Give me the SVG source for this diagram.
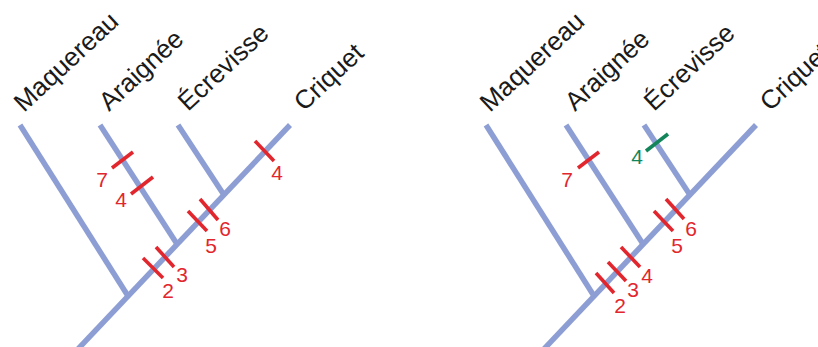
<svg xmlns="http://www.w3.org/2000/svg" width="818" height="347" viewBox="0 0 818 347">
  <style>
    .branch { stroke: #8d9ed4; stroke-width: 5.5; fill: none; stroke-linecap: butt; }
    .tick { stroke: #e2262d; stroke-width: 3.6; stroke-linecap: butt; }
    .tick-alt { stroke: #12865a; stroke-width: 3.6; stroke-linecap: butt; }
    .taxon { font-family: "Liberation Sans", Arial, sans-serif; font-size: 26px; fill: #1a1a1a; }
    .num { font-family: "Liberation Sans", Arial, sans-serif; font-size: 21px; fill: #e2262d; text-anchor: middle; }
    .num-alt { fill: #12865a; }
  </style>

  <!-- Tree 1 -->
  <g id="tree1">
    <g id="connectors1">
      <line class="branch" x1="78" y1="349" x2="290" y2="125"/>
      <line class="branch" x1="20" y1="125" x2="128" y2="296"/>
      <line class="branch" x1="100" y1="125" x2="177" y2="244"/>
      <line class="branch" x1="178" y1="125" x2="224" y2="195"/>
    </g>
    <g id="t1-maquereau"><text class="taxon" transform="translate(24,113) rotate(-43)">Maquereau</text></g>
    <g id="t1-araignee"><text class="taxon" transform="translate(109,112) rotate(-43)">Araignée</text></g>
    <g id="t1-ecrevisse"><text class="taxon" transform="translate(188,112) rotate(-43)">Écrevisse</text></g>
    <g id="t1-criquet"><text class="taxon" transform="translate(304,112) rotate(-43)">Criquet</text></g>
    <g id="t1-marks">
      <line class="tick" x1="112" y1="168" x2="133" y2="152"/>
      <text class="num" x="102" y="187">7</text>
      <line class="tick" x1="131" y1="194" x2="153" y2="177"/>
      <text class="num" x="121" y="207">4</text>
      <line class="tick" x1="143" y1="258" x2="163" y2="278"/>
      <text class="num" x="168" y="298">2</text>
      <line class="tick" x1="156" y1="247" x2="174" y2="267"/>
      <text class="num" x="182" y="282">3</text>
      <line class="tick" x1="188" y1="211" x2="207" y2="231"/>
      <text class="num" x="211" y="253">5</text>
      <line class="tick" x1="200" y1="199" x2="218" y2="220"/>
      <text class="num" x="225" y="236">6</text>
      <line class="tick" x1="255" y1="141" x2="274" y2="161"/>
      <text class="num" x="277" y="180">4</text>
    </g>
  </g>

  <!-- Tree 2 -->
  <g id="tree2">
    <g id="connectors2">
      <line class="branch" x1="544" y1="349" x2="756" y2="125"/>
      <line class="branch" x1="486" y1="125" x2="594" y2="296"/>
      <line class="branch" x1="566" y1="125" x2="643" y2="244"/>
      <line class="branch" x1="644" y1="125" x2="690" y2="195"/>
    </g>
    <g id="t2-maquereau"><text class="taxon" transform="translate(490,113) rotate(-43)">Maquereau</text></g>
    <g id="t2-araignee"><text class="taxon" transform="translate(575,112) rotate(-43)">Araignée</text></g>
    <g id="t2-ecrevisse"><text class="taxon" transform="translate(654,112) rotate(-43)">Écrevisse</text></g>
    <g id="t2-criquet"><text class="taxon" transform="translate(770,112) rotate(-43)">Criquet</text></g>
    <g id="t2-marks">
      <line class="tick" x1="578" y1="168" x2="599" y2="152"/>
      <text class="num" x="567" y="187">7</text>
      <line class="tick-alt" x1="646" y1="151" x2="668" y2="134"/>
      <text class="num num-alt" x="637" y="164">4</text>
      <line class="tick" x1="596" y1="273" x2="614" y2="293"/>
      <text class="num" x="620" y="313">2</text>
      <line class="tick" x1="608" y1="262" x2="626" y2="281"/>
      <text class="num" x="633" y="297">3</text>
      <line class="tick" x1="621" y1="247" x2="640" y2="267"/>
      <text class="num" x="647" y="283">4</text>
      <line class="tick" x1="654" y1="211" x2="673" y2="231"/>
      <text class="num" x="677" y="253">5</text>
      <line class="tick" x1="666" y1="199" x2="684" y2="219"/>
      <text class="num" x="691" y="236">6</text>
    </g>
  </g>
</svg>
